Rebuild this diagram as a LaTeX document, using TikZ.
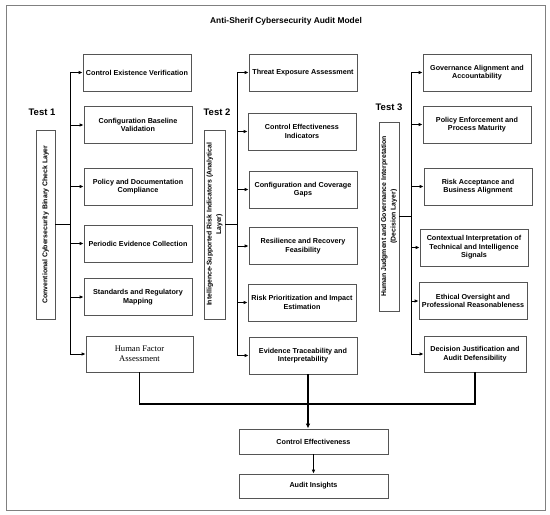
\documentclass[tikz,border=0pt]{standalone}
\usepackage{fontspec}
\usepackage{graphicx}
\setmainfont{Liberation Sans}
\newfontfamily\serifhf{Liberation Serif}
\usetikzlibrary{arrows.meta}
\definecolor{boxgray}{HTML}{555555}
\definecolor{framegray}{HTML}{808080}
\tikzset{
  box/.style={draw=boxgray, line width=0.8pt, inner sep=1pt, align=center,
    minimum width=108pt, minimum height=37pt,
    font=\bfseries\fontsize{7.2}{8.4}\selectfont, text=black},
  vlabel/.style={draw=boxgray, line width=0.8pt, inner sep=0pt, align=center,
    font=\bfseries\fontsize{6.9}{7.6}\selectfont},
  testlbl/.style={font=\bfseries\fontsize{9.5}{11}\selectfont, inner sep=0pt},
  conn/.style={line width=0.9pt, black},
  arr/.style={conn, -{Latex[length=4pt,width=3.6pt]}},
  bconn/.style={line width=1.2pt, black},
}
\begin{document}
\begin{tikzpicture}[x=1pt,y=-1pt]
\useasboundingbox (0,0) rectangle (550,515);
\draw[framegray, line width=0.9pt] (6,5) rectangle (545,510);
\node[font=\bfseries\fontsize{8.4}{9.5}\selectfont] (title) at (286,21) {Anti-Sherif Cybersecurity Audit Model};

% Test labels
\node[testlbl] (t1) at (42,112) {Test 1};
\node[testlbl] (t2) at (217,112) {Test 2};
\node[testlbl] (t3) at (389,107) {Test 3};

% vertical layer labels
\node[vlabel, minimum width=19pt, minimum height=189pt] (l1) at (45.5,224.5)
  {\rotatebox{90}{Conventional Cybersecurity Binary Check Layer}};
\node[vlabel, minimum width=21pt, minimum height=189pt] (l2) at (214.5,224.5)
  {\rotatebox{90}{\shortstack{Intelligence-Supported Risk Indicators (Analytical\\Layer)}}};
\node[vlabel, minimum width=20pt, minimum height=189pt] (l3) at (389,216.5)
  {\rotatebox{90}{\shortstack{Human Judgment and Governance Interpretation\\(Decision Layer)}}};

% column 1
\node[box] (b11) at (137,72.5) {Control Existence Verification};
\node[box] (b12) at (138,125) {Configuration Baseline\\Validation};
\node[box] (b13) at (138,186.5) {Policy and Documentation\\Compliance};
\node[box] (b14) at (138,243.5) {Periodic Evidence Collection};
\node[box] (b15) at (138,297) {Standards and Regulatory\\Mapping};
\node[box, minimum width=107pt, minimum height=36pt, font=\serifhf\fontsize{8.6}{10}\selectfont] (b16) at (139.5,354) {Human Factor\\Assessment};

% column 2
\node[box] (b21) at (303,72.5) {Threat Exposure Assessment};
\node[box] (b22) at (302,131.5) {Control Effectiveness\\Indicators};
\node[box] (b23) at (303,189.5) {Configuration and Coverage\\Gaps};
\node[box] (b24) at (303,246) {Resilience and Recovery\\Feasibility};
\node[box] (b25) at (302,302.5) {Risk Prioritization and Impact\\Estimation};
\node[box] (b26) at (303,355.5) {Evidence Traceability and\\Interpretability};

% column 3
\node[box] (b31) at (477,72.5) {Governance Alignment and\\Accountability};
\node[box] (b32) at (477,124.5) {Policy Enforcement and\\Process Maturity};
\node[box] (b33) at (478,186.5) {Risk Acceptance and\\Business Alignment};
\node[box] (b34) at (474,247.5) {Contextual Interpretation of\\Technical and Intelligence\\Signals};
\node[box] (b35) at (473,301) {Ethical Oversight and\\Professional Reasonableness};
\node[box, minimum width=102pt, minimum height=36pt] (b36) at (475,354) {Decision Justification and\\Audit Defensibility};

% bottom
\node[box, minimum width=149pt, minimum height=25pt] (ce) at (313.5,441.5) {Control Effectiveness};
\node[box, minimum width=149pt, minimum height=24pt] (ai) at (313.5,486) {Audit Insights};

% trunks
\coordinate (x1) at (70,0);
\coordinate (x2) at (237,0);
\coordinate (x3) at (411,0);
\coordinate (j) at (308,404);

\draw[conn] (x1 |- b11.west) -- (x1 |- b16.west);
\draw[conn] (l1.east) -- (l1.east -| x1);
\foreach \b in {b11,b12,b13,b14,b15,b16} \draw[arr] (x1 |- \b.west) -- (\b.west);

\draw[conn] (x2 |- b21.west) -- (x2 |- b26.west);
\draw[conn] (l2.east) -- (l2.east -| x2);
\foreach \b in {b21,b22,b23,b24,b25,b26} \draw[arr] (x2 |- \b.west) -- (\b.west);

\draw[conn] (x3 |- b31.west) -- (x3 |- b36.west);
\draw[conn] (l3.east) -- (l3.east -| x3);
\foreach \b in {b31,b32,b33,b34,b35,b36} \draw[arr] (x3 |- \b.west) -- (\b.west);

% convergence
\draw[bconn] (b16.south) |- (j) -| (b36.south);
\draw[bconn] (b26.south -| j) -- (j);
\draw[bconn, -{Latex[length=5pt,width=4.5pt]}] (j) -- (ce.north -| j);
\draw[arr] (ce.south -| ai.north) -- (ai.north);
\end{tikzpicture}
\end{document}
